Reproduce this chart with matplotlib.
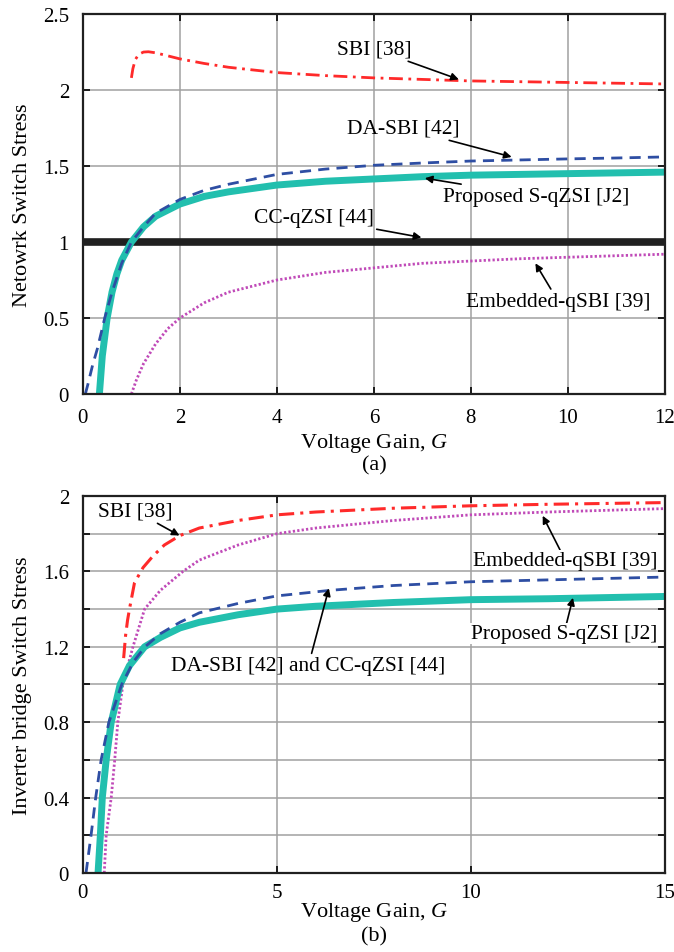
import matplotlib
matplotlib.use("Agg")
import matplotlib.pyplot as plt

plt.rcParams['font.family'] = ['Liberation Serif', 'DejaVu Serif']
plt.rcParams['mathtext.fontset'] = 'custom'
plt.rcParams['mathtext.it'] = 'Liberation Serif:italic'

# ---- (a) network switch stress ----
g_sbi_a = [1.0, 1.03, 1.08, 1.15, 1.25, 1.35, 1.5, 1.75, 2, 2.5, 3, 4, 5, 6, 7, 8, 9, 10, 11, 12]
sbi_a = [2.08, 2.14, 2.2, 2.235, 2.25, 2.252, 2.245, 2.225, 2.205, 2.175, 2.15, 2.115,
         2.095, 2.08, 2.07, 2.06, 2.055, 2.05, 2.045, 2.04]

g_da_a = [0.05, 0.1, 0.2, 0.3, 0.45, 0.6, 0.8, 1.0, 1.25, 1.5, 2, 2.5, 3, 4, 5, 6, 7, 8, 9, 10, 11, 12]
da_a = [0, 0.06, 0.19, 0.3, 0.5, 0.67, 0.86, 1.0, 1.1, 1.19, 1.28, 1.34, 1.38, 1.445, 1.48,
        1.505, 1.52, 1.533, 1.54, 1.547, 1.553, 1.56]

g_prop_a = [0.34, 0.4, 0.5, 0.6, 0.7, 0.8, 1.0, 1.25, 1.5, 2, 2.5, 3, 4, 5, 6, 7, 8, 9, 10, 11, 12]
prop_a = [0, 0.25, 0.5, 0.67, 0.79, 0.88, 1.0, 1.1, 1.17, 1.25, 1.3, 1.33, 1.375, 1.4, 1.415,
          1.43, 1.44, 1.445, 1.45, 1.455, 1.46]

g_emb_a = [1.0, 1.1, 1.25, 1.5, 1.75, 2, 2.5, 3, 4, 5, 6, 7, 8, 9, 10, 11, 12]
emb_a = [0, 0.09, 0.2, 0.33, 0.43, 0.5, 0.6, 0.67, 0.75, 0.8, 0.83, 0.86, 0.875, 0.89, 0.9, 0.91, 0.92]

g_cc_a = [0, 12]
cc_a = [1, 1]

xticks_a = [0, 2, 4, 6, 8, 10, 12]
yticks_a = [0, 0.5, 1, 1.5, 2, 2.5]
ylabels_a = ['0', '0.5', '1', '1.5', '2', '2.5']

# ---- (b) inverter bridge switch stress ----
g_sbi_b = [1.05, 1.1, 1.15, 1.2, 1.33, 1.55, 1.8, 2.1, 2.5, 3, 4, 5, 6, 8, 10, 12, 15]
sbi_b = [1.14, 1.26, 1.34, 1.4, 1.54, 1.62, 1.68, 1.74, 1.79, 1.83, 1.87, 1.9, 1.915, 1.935,
         1.948, 1.956, 1.965]

g_emb_b = [0.55, 0.6, 0.73, 0.82, 0.9, 1.03, 1.29, 1.59, 2.0, 2.58, 3, 4, 5, 6, 8, 10, 12, 15]
emb_b = [0, 0.2, 0.4, 0.6, 0.8, 1.0, 1.2, 1.4, 1.5, 1.6, 1.66, 1.74, 1.8, 1.83, 1.87, 1.9, 1.915, 1.933]

g_da_b = [0.08, 0.21, 0.33, 0.47, 0.67, 1.0, 1.3, 1.6, 2, 2.5, 3, 4, 5, 6.4, 8, 10, 12, 15]
da_b = [0, 0.2, 0.4, 0.6, 0.8, 1.0, 1.12, 1.2, 1.27, 1.33, 1.38, 1.43, 1.47, 1.5, 1.525, 1.545,
        1.555, 1.57]

g_prop_b = [0.39, 0.45, 0.5, 0.6, 0.73, 0.96, 1.2, 1.59, 2, 2.5, 3, 4, 5, 6, 8, 10, 12, 15]
prop_b = [0, 0.2, 0.4, 0.6, 0.8, 1.0, 1.1, 1.2, 1.25, 1.3, 1.33, 1.37, 1.4, 1.415, 1.435, 1.45,
          1.455, 1.467]

xticks_b = [0, 5, 10, 15]
yticks_b = [0, 0.2, 0.4, 0.6, 0.8, 1.0, 1.2, 1.4, 1.6, 1.8, 2.0]
ylabels_b = ['0', '', '0.4', '', '0.8', '', '1.2', '', '1.6', '', '2']

RED = '#ff2a2a'
BLUE = '#2e4ea3'
TEAL = '#22bfae'
MAG = '#c04ab8'
GRID = '#a0a0a0'
FS_ANN = 15.5

fig = plt.figure(figsize=(6.74, 9.53), dpi=100)
ax1 = fig.add_axes([0.123, 0.5855, 0.8635, 0.3987])
ax2 = fig.add_axes([0.123, 0.0829, 0.8635, 0.3956])


def style(ax):
    ax.grid(True, color=GRID, lw=1.1)
    ax.set_axisbelow(True)
    for s in ax.spines.values():
        s.set_linewidth(1.6)
        s.set_color('#202020')
    ax.tick_params(direction='in', length=5, width=1.2, top=True, right=True,
                   labelsize=15, pad=10)


arr = dict(arrowstyle='-|>', color='black', lw=1.2, mutation_scale=11, shrinkA=0, shrinkB=0)

# (a)
ax1.plot(g_cc_a, cc_a, color='#202020', lw=5.5)
ax1.plot(g_emb_a, emb_a, color=MAG, lw=2.0, linestyle=(0, (0.8, 0.8)))
ax1.plot(g_prop_a, prop_a, color=TEAL, lw=5.0)
ax1.plot(g_da_a, da_a, color=BLUE, lw=2.0, linestyle=(0, (4, 2.6)))
ax1.plot(g_sbi_a, sbi_a, color=RED, lw=2.0, linestyle=(0, (5, 2, 1, 2)))
ax1.set_xlim(0, 12)
ax1.set_ylim(0, 2.5)
ax1.set_xticks(xticks_a)
ax1.set_yticks(yticks_a, ylabels_a)
style(ax1)
ax1.set_xlabel('Voltage Gain, $G$', fontsize=16, labelpad=3)
ax1.set_ylabel('Netowrk Switch Stress', fontsize=16, labelpad=8)

ax1.annotate('SBI [38]', xy=(7.75, 2.07), xytext=(6.0, 2.27), fontsize=FS_ANN,
             ha='center', va='center', arrowprops=arr)
ax1.annotate('DA-SBI [42]', xy=(8.84, 1.56), xytext=(6.6, 1.75), fontsize=FS_ANN,
             ha='center', va='center', arrowprops=arr)
ax1.annotate('Proposed S-qZSI [J2]', xy=(7.05, 1.42), xytext=(7.42, 1.30), fontsize=FS_ANN,
             ha='left', va='center', arrowprops=arr)
ax1.annotate('CC-qZSI [44]', xy=(6.98, 1.03), xytext=(6.0, 1.16), fontsize=FS_ANN,
             ha='right', va='center', arrowprops=arr)
ax1.annotate('Embedded-qSBI [39]', xy=(9.33, 0.86), xytext=(9.8, 0.61), fontsize=FS_ANN,
             ha='center', va='center', arrowprops=arr)

# (b)
ax2.plot(g_emb_b, emb_b, color=MAG, lw=2.0, linestyle=(0, (0.8, 0.8)))
ax2.plot(g_prop_b, prop_b, color=TEAL, lw=5.0)
ax2.plot(g_da_b, da_b, color=BLUE, lw=2.0, linestyle=(0, (4, 2.6)))
ax2.plot(g_sbi_b, sbi_b, color=RED, lw=2.2, linestyle=(0, (5, 2, 1, 2)))
ax2.set_xlim(0, 15)
ax2.set_ylim(0, 2)
ax2.set_xticks(xticks_b)
ax2.set_yticks(yticks_b, ylabels_b)
style(ax2)
ax2.tick_params(axis='x', pad=7)
ax2.set_xlabel('Voltage Gain, $G$', fontsize=16, labelpad=-1)
ax2.set_ylabel('Inverter bridge Switch Stress', fontsize=16, labelpad=8)

wbox = dict(facecolor='white', edgecolor='none', pad=0.5)
ax2.annotate('SBI [38]', xy=(2.49, 1.79), xytext=(0.39, 1.92), fontsize=FS_ANN,
             ha='left', va='center', arrowprops=arr)
ax2.annotate('Embedded-qSBI [39]', xy=(11.85, 1.895), xytext=(12.43, 1.66), fontsize=FS_ANN,
             ha='center', va='center', bbox=wbox, arrowprops=arr)
ax2.annotate('Proposed S-qZSI [J2]', xy=(12.63, 1.46), xytext=(12.4, 1.27), fontsize=FS_ANN,
             ha='center', va='center', bbox=wbox, arrowprops=arr)
ax2.annotate('DA-SBI [42] and CC-qZSI [44]', xy=(6.34, 1.51), xytext=(5.81, 1.10), fontsize=FS_ANN,
             ha='center', va='center', arrowprops=arr)

fig.text(0.123 + 0.8635 / 2, 1 - 466 / 953, '(a)', fontsize=16, ha='center', va='center')
fig.text(0.123 + 0.8635 / 2, 1 - 937 / 953, '(b)', fontsize=16, ha='center', va='center')

fig.savefig('out.png', dpi=100)
